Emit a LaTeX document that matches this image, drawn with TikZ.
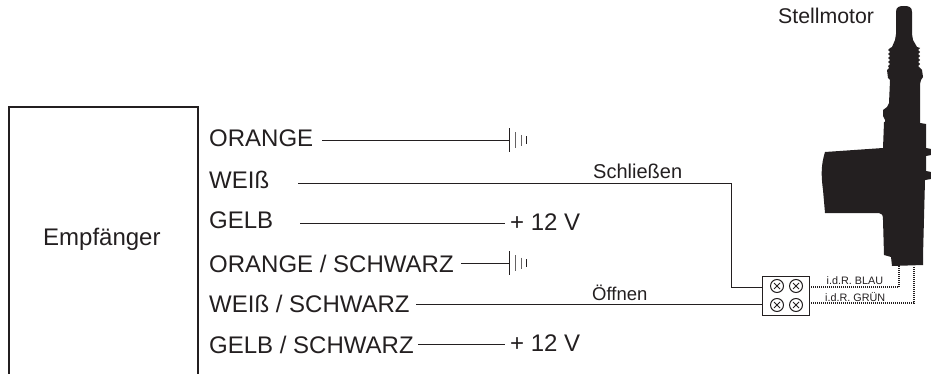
\documentclass[tikz,border=0pt]{standalone}
\usepackage{fontspec}
\setmainfont{Liberation Sans}
\definecolor{ink}{HTML}{231F20}
\tikzset{
  lbl/.style={anchor=base west,inner sep=0pt,text=ink,font=\fontsize{24}{26}\selectfont},
  mid/.style={anchor=base west,inner sep=0pt,text=ink,font=\fontsize{20}{22}\selectfont},
  low/.style={anchor=base west,inner sep=0pt,text=ink,font=\fontsize{18.5}{20}\selectfont},
  top/.style={anchor=base west,inner sep=0pt,text=ink,font=\fontsize{21.3}{23}\selectfont},
  tiny/.style={anchor=base west,inner sep=0pt,text=ink,font=\fontsize{10.8}{12}\selectfont},
  wire/.style={draw=ink,line width=0.9pt},
  dots/.style={draw=ink,line width=1.2pt,dash pattern=on 1pt off 1pt},
  screw/.style={circle,draw=ink,line width=1pt,minimum size=13pt,inner sep=0pt},
  bar/.style={draw=ink,line width=0.8pt},
  gbar/.style={draw=ink!70,line width=0.8pt}
}
\begin{document}
\begin{tikzpicture}[x=1pt,y=-1pt]
\useasboundingbox (0,0) rectangle (931,374);
\draw[ink,line width=2pt] (9,374) -- (9,107) -- (198,107) -- (198,374);
\node[lbl] (emp) at (43,245.5) {Empfänger};
\node[lbl] (l1) at (209,146.5) {ORANGE};
\node[lbl] (l2) at (209,189) {WEIß};
\node[lbl] (l3) at (209,229) {GELB};
\node[lbl] (l4) at (209,272) {ORANGE / SCHWARZ};
\node[lbl] (l5) at (209,312.5) {WEIß / SCHWARZ};
\node[lbl] (l6) at (209,353) {GELB / SCHWARZ};
\node[lbl] (p1) at (510,230) {+ 12 V};
\node[lbl] (p2) at (510,351) {+ 12 V};
\node[mid] (sch) at (593,178.3) {Schließen};
\node[low] (off) at (592,300) {Öffnen};
\node[top] (st) at (778,24) {Stellmotor};
\node[tiny] (bl) at (826.5,284.5) {i.d.R. BLAU};
\node[tiny] (gr) at (825,301.7) {i.d.R. GRÜN};
\node[draw=ink,line width=0.8pt,minimum width=47pt,minimum height=39pt,inner sep=0pt] (tb) at (785.5,295.5) {};
\foreach \n/\x/\y in {a/777/286,b/796/286,c/777/305,d/796/305}{
  \node[screw] (\n) at (\x,\y) {};
  \draw[ink,line width=1pt] (\x-3,\y-3) -- (\x+3,\y+3) (\x-3,\y+3) -- (\x+3,\y-3);
}
\coordinate (w1s) at (322,140.3); \coordinate (g1) at (509,140.3);
\coordinate (w2s) at (298,183); \coordinate (w2c) at (731,183); \coordinate (w2d) at (731,287); \coordinate (t1) at (762,287);
\coordinate (w3s) at (300,223); \coordinate (w3e) at (505,223);
\coordinate (w4s) at (461,263); \coordinate (g2) at (509,263);
\coordinate (w5s) at (416,304); \coordinate (t2) at (762,304);
\coordinate (w6s) at (418,344); \coordinate (w6e) at (505,344);
\draw[wire] (w1s) -- (g1);
\draw[wire] (w2s) -- (w2c) -- (w2d) -- (t1);
\draw[wire] (w3s) -- (w3e);
\draw[wire] (w4s) -- (g2);
\draw[wire] (w5s) -- (t2);
\draw[wire] (w6s) -- (w6e);
\foreach \c in {g1,g2}{
  \draw[bar] ([yshift=12pt]\c) -- ([yshift=-12pt]\c);
  \draw[gbar] ([xshift=6pt,yshift=8pt]\c) -- ([xshift=6pt,yshift=-8pt]\c);
  \draw[gbar] ([xshift=12pt,yshift=5.5pt]\c) -- ([xshift=12pt,yshift=-5.5pt]\c);
  \draw[bar] ([xshift=17.5pt,yshift=4pt]\c) -- ([xshift=17.5pt,yshift=-4pt]\c);
}
\fill[ink] (896,12) .. controls (896,7) and (899,6) .. (904,6)
  .. controls (909,6) and (912,7) .. (912,12) -- (912,34) -- (913,40) -- (917,47)
  -- (920,48) -- (918,50) -- (920,52) -- (918,54) -- (920,56) -- (918,58) -- (920,60) -- (918,62) -- (920,64) -- (918,66) -- (920,68)
  -- (922,70) -- (923,77) -- (921,80) -- (920,84) -- (920,123) -- (926,124) -- (926,148)
  -- (931,149) -- (931,155) -- (926,156) -- (926,171) -- (931,172) -- (931,179) -- (925,180)
  -- (923,256) -- (923,265) -- (892,266) -- (891,257) -- (884,255)
  -- (883,220) .. controls (883,215) and (882,213) .. (879,213) -- (825,213)
  -- (823,190) .. controls (821,175) and (821,165) .. (825,152) -- (883,148) -- (884,122)
  -- (885,122) -- (885,120) -- (883,116) -- (883,110) -- (887,107) -- (889,103)
  -- (890,80) -- (888,78) -- (887,70) -- (889,68) -- (888,66) -- (890,64) -- (888,62) -- (890,60) -- (888,58) -- (890,56) -- (888,54) -- (890,52) -- (888,50) -- (890,48) -- (892,47) -- (895,40) -- (896,34) -- cycle;
\coordinate (m1) at (899,266); \coordinate (m2) at (914,266);
\coordinate (o1) at (809,287); \coordinate (o2) at (809,303);
\draw[dots] (o1) -| (m1);
\draw[dots] (o2) -| (m2);
\end{tikzpicture}
\end{document}
